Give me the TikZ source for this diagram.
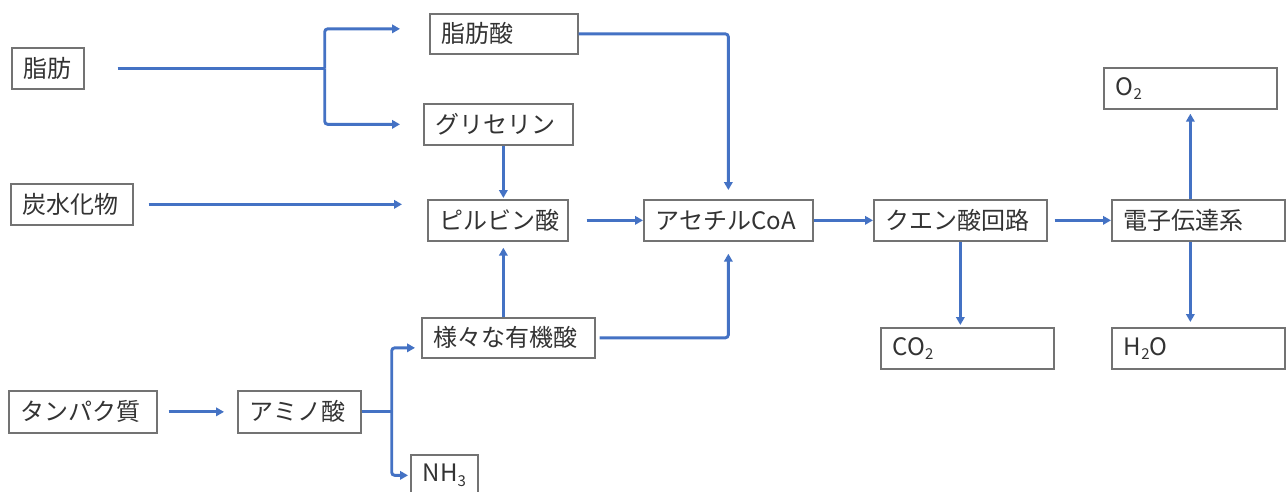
\documentclass[tikz,border=0pt]{standalone}
\usepackage{fontspec}
\setmainfont{Noto Sans CJK JP}
\newfontfamily\jpfont{Noto Sans CJK JP}
\usetikzlibrary{arrows.meta}
\definecolor{lineblue}{HTML}{4472C4}
\definecolor{boxgray}{HTML}{737373}
\definecolor{txtgray}{HTML}{333333}
\newcommand{\chemsub}[1]{\raisebox{-0.35ex}{\fontsize{15pt}{15pt}\selectfont #1}}
\begin{document}
\begin{tikzpicture}[x=1pt,y=-1pt,
  box/.style={draw=boxgray, line width=1.7pt, text=txtgray,
    font=\jpfont\fontsize{24pt}{28pt}\selectfont,
    inner xsep=12pt, inner ysep=0pt, minimum height=41pt,
    align=left, anchor=north west},
  arr/.style={draw=lineblue, line width=2.9pt, rounded corners=3pt,
    -{Triangle[length=8pt,width=8.5pt]}},
  ln/.style={draw=lineblue, line width=2.9pt, rounded corners=3pt}]
\useasboundingbox (0,0) rectangle (1287,492);
\clip (0,0) rectangle (1287,492);
\fill[white] (0,0) rectangle (1287,492);

% nodes
\node[box, text width=48pt]  (fat)   at (11,47)   {脂肪};
\node[box, text width=124pt, minimum height=40pt] (fa) at (429,13) {脂肪酸};
\node[box, text width=125pt] (gly)   at (423,103) {グリセリン};
\node[box, text width=98pt]  (carb)  at (10,183)  {炭水化物};
\node[box, text width=116pt] (pyr)   at (427,199) {ピルビン酸};
\node[box, text width=145pt] (acoa)  at (643,199) {アセチルCoA};
\node[box, text width=149pt] (tca)   at (873,199) {クエン酸回路};
\node[box, text width=149pt] (etc)   at (1111,199) {電子伝達系};
\node[box, text width=149pt] (o2)    at (1103,67) {O\chemsub{2}};
\node[box, text width=149pt] (co2)   at (880,327) {CO\chemsub{2}};
\node[box, text width=149pt] (h2o)   at (1111,327) {H\chemsub{2}O};
\node[box, text width=149pt, minimum height=40pt] (org) at (421,317) {様々な有機酸};
\node[box, text width=124pt, minimum height=42pt] (prot) at (8,390) {タンパク質};
\node[box, text width=99pt, minimum height=42pt]  (amino) at (237,390) {アミノ酸};
\node[box, text width=43pt]  (nh3)   at (410,454) {NH\chemsub{3}};

% fat branch
\coordinate (fj) at ([xshift=240pt]fat.east);
\draw[ln] ([xshift=33pt]fat.east) -- (fj);
\draw[arr] (fj) |- ([xshift=-29pt,yshift=5pt]fa.west);
\draw[arr] (fj) |- ([xshift=-23pt]gly.west);

% carbohydrate
\draw[arr] ([xshift=15pt]carb.east) -- ([xshift=-25pt]pyr.west |- carb.east);

% glycerin -> pyruvate
\draw[arr, shorten >=1pt] ([xshift=5pt]gly.south) -- ([xshift=5pt]gly.south |- pyr.north);

% fatty acid -> acetyl CoA
\draw[arr, shorten >=9pt] (fa.east) -| (acoa.north);

% pyruvate -> acetyl CoA
\draw[arr] ([xshift=18pt]pyr.east) -- (acoa.west);

% acetyl CoA -> TCA -> ETC
\draw[arr] (acoa.east) -- (tca.west);
\draw[arr] ([xshift=7pt]tca.east) -- (etc.west);

% ETC -> O2, H2O
\draw[arr, shorten >=4pt] (etc.north -| o2.south) -- (o2.south);
\draw[arr, shorten >=5pt] (etc.south -| o2.south) -- (h2o.north -| o2.south);

% TCA -> CO2
\draw[arr, shorten >=2pt] (tca.south) -- (tca.south |- co2.north);

% organic acids -> pyruvate, acetyl CoA
\draw[arr, shorten >=6pt] ([xshift=-5pt]org.north) -- ([xshift=-5pt]org.north |- pyr.south);
\draw[arr, shorten >=12pt] ([xshift=4pt]org.east) -| (acoa.south);

% protein -> amino acid
\draw[arr] ([xshift=11pt]prot.east) -- ([xshift=-13pt]amino.west);

% amino acid branch
\coordinate (aj) at ([xshift=30pt]amino.east);
\draw[ln] (amino.east) -- (aj);
\draw[arr] (aj) |- ([xshift=-6pt,yshift=-10pt]org.west);
\draw[arr, shorten >=2pt] (aj) |- (nh3.west);
\end{tikzpicture}
\end{document}
